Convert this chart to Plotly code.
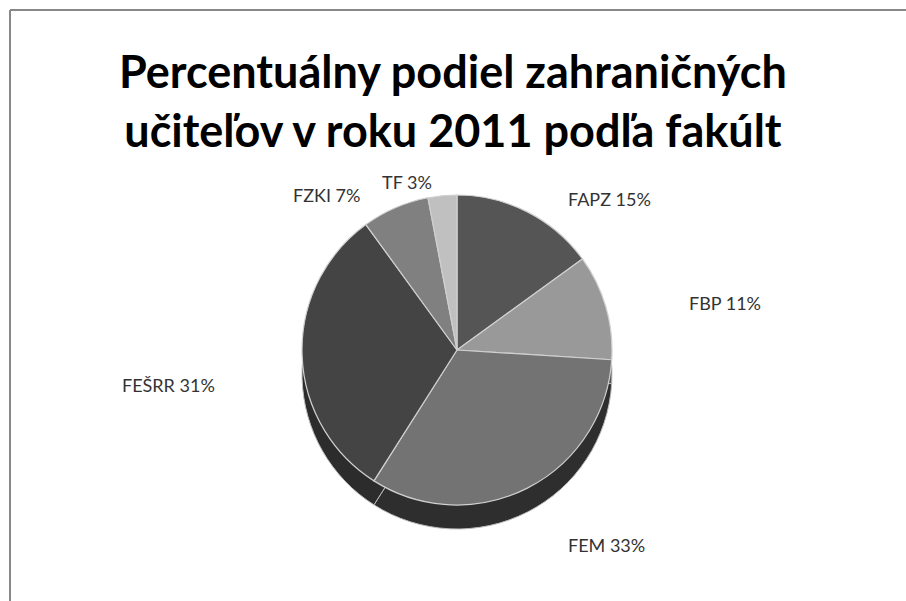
import math
import plotly.graph_objects as go

W, H = 906, 601

labels = ["FAPZ", "FBP", "FEM", "FEŠRR", "FZKI", "TF"]
values = [15, 11, 33, 31, 7, 3]
top_colors = ["#555555", "#999999", "#737373", "#444444", "#808080", "#c0c0c0"]
side_colors = ["#333333", "#555555", "#2e2e2e", "#2c2c2c", "#444444", "#666666"]
title_text = "Percentuálny podiel zahraničných<br>učiteľov v roku 2011 podľa fakúlt"

cx, cy, r, depth = 457, 350, 155, 24

def dom(cx, cy, r):
    return dict(x=[(cx - r) / W, (cx + r) / W],
                y=[1 - (cy + r) / H, 1 - (cy - r) / H])

fig = go.Figure()
# side (depth) of the pie
fig.add_trace(go.Pie(
    labels=labels, values=values, sort=False, direction="clockwise", rotation=0,
    marker=dict(colors=side_colors, line=dict(color="#bbbbbb", width=1)),
    textinfo="none", hoverinfo="skip", showlegend=False,
    domain=dom(cx, cy + depth, r),
))
# top of the pie
fig.add_trace(go.Pie(
    labels=labels, values=values, sort=False, direction="clockwise", rotation=0,
    marker=dict(colors=top_colors, line=dict(color="#d0d0d0", width=1.2)),
    textinfo="none", showlegend=False,
    domain=dom(cx, cy, r),
))

# slice labels placed around the pie at each slice's mid-angle
total = sum(values)
cum = 0
rl = r + 14
for lab, v in zip(labels, values):
    mid = (cum + v / 2) / total * 2 * math.pi
    cum += v
    s, c = math.sin(mid), math.cos(mid)
    px = cx + rl * 1.42 * s
    py = cy - rl * c
    if c < -0.5:
        py += depth + 20
    elif c < 0:
        py += depth + 6
    fig.add_annotation(
        text=f"{lab} {v}%", x=px / W, y=1 - py / H, xref="paper", yref="paper",
        xanchor="left" if s > 0 else "right", yanchor="middle", showarrow=False,
        font=dict(family="Liberation Sans Narrow, Arial Narrow, Lato, sans-serif",
                  size=18, color="#333333"),
    )

fig.add_annotation(
    text=title_text, x=0.5, y=1 - 101 / H, xref="paper", yref="paper",
    xanchor="center", yanchor="middle", showarrow=False,
    font=dict(family="Lato, sans-serif", size=45, color="#000000", weight="bold"),
)

# chart frame (partly cropped in the reference)
fig.add_shape(type="line", xref="paper", yref="paper",
              x0=10 / W, x1=1, y0=1 - 10 / H, y1=1 - 10 / H,
              line=dict(color="#888888", width=2))
fig.add_shape(type="line", xref="paper", yref="paper",
              x0=10 / W, x1=10 / W, y0=1 - 10 / H, y1=0,
              line=dict(color="#888888", width=2))

fig.update_layout(
    width=W, height=H,
    margin=dict(l=0, r=0, t=0, b=0),
    paper_bgcolor="white", plot_bgcolor="white",
    font=dict(family="Lato, sans-serif"),
)

fig.write_html("out.html", config={"displayModeBar": False},
               post_script="document.body.style.margin='0px';document.body.style.overflow='hidden';")
